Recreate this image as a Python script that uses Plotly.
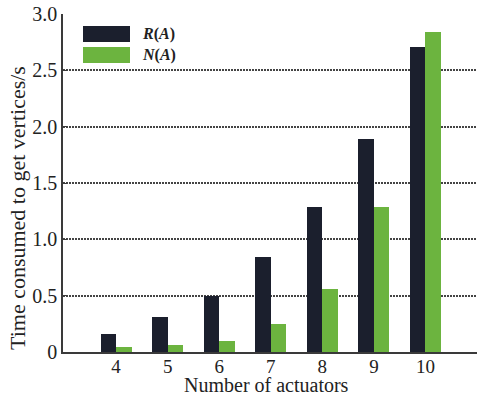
import plotly.graph_objects as go

# Timing results for vertex enumeration
actuators = [4, 5, 6, 7, 8, 9, 10]
time_R = [0.16, 0.31, 0.50, 0.84, 1.29, 1.89, 2.71]
time_N = [0.04, 0.06, 0.10, 0.25, 0.56, 1.29, 2.84]
y_ticks = [0, 0.5, 1.0, 1.5, 2.0, 2.5, 3.0]
y_tick_text = ["0", "0.5", "1.0", "1.5", "2.0", "2.5", "3.0"]

NAVY = "#1b1f2d"
GREEN = "#6cb43f"
AXIS = "#3a3a3a"
FONT = "Liberation Serif"

fig = go.Figure()
fig.add_trace(go.Bar(x=actuators, y=time_R, name="R(A)", marker_color=NAVY,
                     marker_line_width=0, width=0.3, offset=-0.3))
fig.add_trace(go.Bar(x=actuators, y=time_N, name="N(A)", marker_color=GREEN,
                     marker_line_width=0, width=0.3, offset=0.0))

W, H = 477, 396
L, R, T, B = 63, 0, 14, 44
pw, ph = W - L - R, H - T - B


def px(xp):
    return (xp - L) / pw


def py(yp):
    return (H - B - yp) / ph


# Legend swatches and labels
shapes = []
annotations = []
for color, label, top in [(NAVY, "<b><i>R</i>(<i>A</i>)</b>", 26),
                          (GREEN, "<b><i>N</i>(<i>A</i>)</b>", 47)]:
    shapes.append(dict(type="rect", xref="paper", yref="paper",
                       x0=px(83), x1=px(130), y0=py(top + 16), y1=py(top),
                       fillcolor=color, line_width=0))
    annotations.append(dict(xref="paper", yref="paper", x=px(140), y=py(top + 8),
                            xanchor="left", yanchor="middle", showarrow=False,
                            text=label, font=dict(family=FONT, size=16, color="#222")))

# Axis titles
annotations.append(dict(xref="paper", yref="paper", x=px(17), y=py(208),
                        xanchor="center", yanchor="middle", showarrow=False, textangle=-90,
                        text="Time consumed to get vertices/s",
                        font=dict(family=FONT, size=22, color="#222")))
annotations.append(dict(xref="paper", yref="paper", x=px(266), y=py(398),
                        xanchor="center", yanchor="bottom", showarrow=False,
                        text="Number of actuators",
                        font=dict(family=FONT, size=20, color="#222")))

fig.update_layout(
    width=W, height=H,
    margin=dict(l=L, r=R, t=T, b=B),
    paper_bgcolor="white", plot_bgcolor="white",
    showlegend=False,
    bargap=0,
    font=dict(family=FONT, size=19, color="#222"),
    shapes=shapes,
    annotations=annotations,
    xaxis=dict(range=[2.97, 11.0], tickvals=actuators, ticks="", showgrid=False,
               showline=True, linecolor=AXIS, linewidth=1.5, zeroline=False,
               tickfont=dict(size=19), ticklabelstandoff=-4),
    xaxis2=dict(overlaying="x", matches="x", side="top", anchor="y", tickvals=actuators,
                ticks="inside", ticklen=4, tickcolor=AXIS, tickwidth=1.5, showticklabels=False,
                showline=True, linecolor=AXIS, linewidth=1.5, showgrid=False),
    yaxis=dict(range=[0, 3.0], tickvals=y_ticks, ticktext=y_tick_text,
               ticks="inside", ticklen=4, tickcolor=AXIS, tickwidth=1.2,
               showline=True, linecolor=AXIS, linewidth=1.5, zeroline=False,
               showgrid=True, gridcolor="#444", griddash="1.5px,1.5px", gridwidth=1.5,
               tickfont=dict(size=20)),
)

fig.write_html("out.html")
